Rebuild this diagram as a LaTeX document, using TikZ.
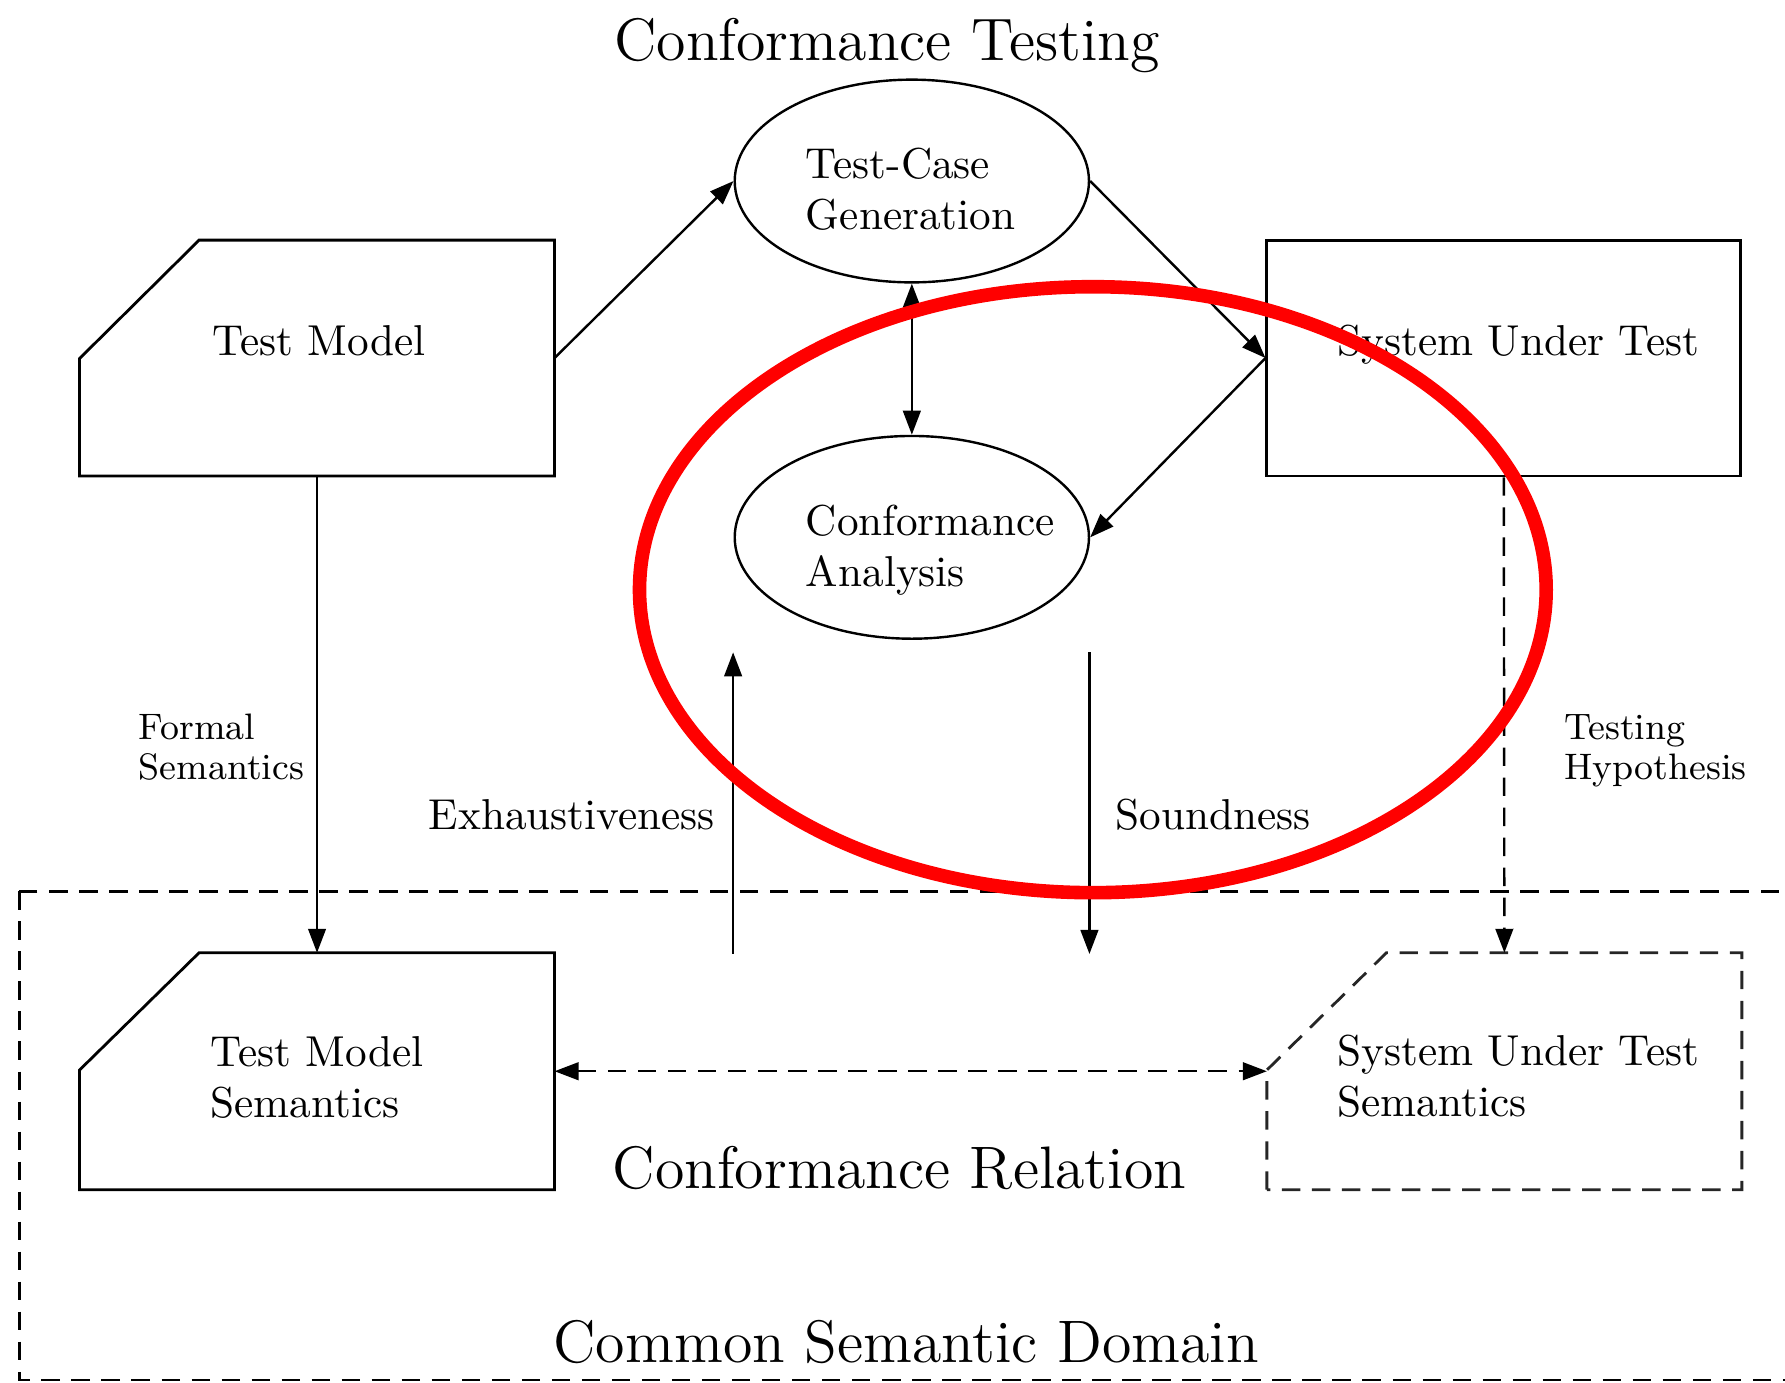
\documentclass[tikz,border=0pt]{standalone}
\usetikzlibrary{arrows.meta,calc,shapes.geometric}
\begin{document}
\begin{tikzpicture}[x=0.01cm,y=-0.01cm,
  line width=0.6pt,
  mainfont/.style={font=\fontsize{10.8}{12.8}\selectfont},
  bigfont/.style={font=\fontsize{14.98}{17.5}\selectfont},
  smallfont/.style={font=\fontsize{9.2}{9.96}\selectfont},
  txt/.style={inner sep=0pt, outer sep=0pt, align=left, anchor=base west},
  area/.style={rectangle, draw=none, inner sep=0pt, outer sep=0pt},
  boxline/.style={line width=0.7pt, line join=miter},
  dashline/.style={dash pattern=on 4.6pt off 2.9pt},
  blob/.style={ellipse, draw, line width=0.6pt, inner sep=0pt,
               minimum width=3.11cm, minimum height=1.78cm},
  tip/.style={-{Triangle[length=6pt,width=4.4pt]}},
  bitip/.style={{Triangle[length=6pt,width=4.4pt]}-{Triangle[length=6pt,width=4.4pt]}}
]
\useasboundingbox (0,0) rectangle (1568,1214);
\clip (0,0) rectangle (1568,1214);

% common semantic domain frame (runs past the right and bottom edges)
\draw[dashline] (17,783) rectangle (1640,1212);

% anchor areas for the four boxes
\node[area, minimum width=4.17cm, minimum height=2.07cm] (tm)   at (278.5,314.5) {};
\node[area, minimum width=4.17cm, minimum height=2.08cm] (tms)  at (278.5,941)   {};
\node[draw, boxline, inner sep=0pt, minimum width=4.16cm, minimum height=2.07cm] (sut) at (1321,314.5) {};
\node[area, minimum width=4.17cm, minimum height=2.08cm] (suts) at (1321.5,941)  {};

% chamfered outlines
\draw[boxline] (tm.south west) -- ($(tm.north west)+(0,104)$) -- ($(tm.north west)+(105,0)$)
  -- (tm.north east) -- (tm.south east) -- cycle;
\draw[boxline] (tms.south west) -- ($(tms.north west)+(0,103)$) -- ($(tms.north west)+(105,0)$)
  -- (tms.north east) -- (tms.south east) -- cycle;
\draw[boxline, dashline, black!85] (suts.south west) -- ($(suts.north west)+(0,103)$)
  -- ($(suts.north west)+(105,0)$) -- (suts.north east) -- (suts.south east) -- cycle;

% process ellipses
\node[blob] (tcg) at (801,159) {};
\node[blob] (ca)  at (801,472) {};

% texts (multi-line nodes sit on the baseline of their last line)
\node[txt, bigfont, anchor=base] (title) at (779,53) {Conformance Testing};
\node[txt, mainfont] (tmtext)  at (187,312)  {Test Model};
\node[txt, mainfont] (suttext) at (1175,312) {System Under Test};
\node[txt, mainfont] (tcgtext) at (708,202)  {Test-Case\\Generation};
\node[txt, mainfont] (catext)  at (708,515)  {Conformance\\Analysis};
\node[txt, mainfont] (tmstext) at (185,982)  {Test Model\\Semantics};
\node[txt, mainfont] (sutstext) at (1175,981) {System Under Test\\Semantics};
\node[txt, smallfont] (formal) at (122,685)  {Formal\\Semantics};
\node[txt, smallfont] (hypo)   at (1374,685) {Testing\\Hypothesis};
\node[txt, mainfont, anchor=base east] (exh) at (628,729) {Exhaustiveness};
\node[txt, mainfont] (snd) at (980,729) {Soundness};
\node[txt, bigfont, anchor=base] (rel) at (790,1044) {Conformance Relation};
\node[txt, bigfont, anchor=base] (dom) at (796,1197) {Common Semantic Domain};

% connectors
\draw[tip] (tm.east) -- (tcg.west);
\draw[tip] (tcg.east) -- (sut.west);
\draw[tip] (sut.west) -- (ca.east);
\draw[bitip] (tcg.south) -- (ca.north);
\draw[tip] (tm.south) -- (tms.north);
\draw[tip, dashline] (sut.south) -- (suts.north);
\draw[bitip, dashline] (tms.east) -- (suts.west);

\coordinate (exFoot) at (644,838);
\coordinate (exHead) at (644,573);
\coordinate (sdTop)  at (957,573);
\coordinate (sdFoot) at (957,838);
\draw[tip] (exFoot) -- (exHead);
\draw[tip] (sdTop) -- (sdFoot);

% highlight ring
\draw[red, line width=3.4pt] (960,518) ellipse [x radius=3.98cm, y radius=2.66cm];
\end{tikzpicture}
\end{document}
